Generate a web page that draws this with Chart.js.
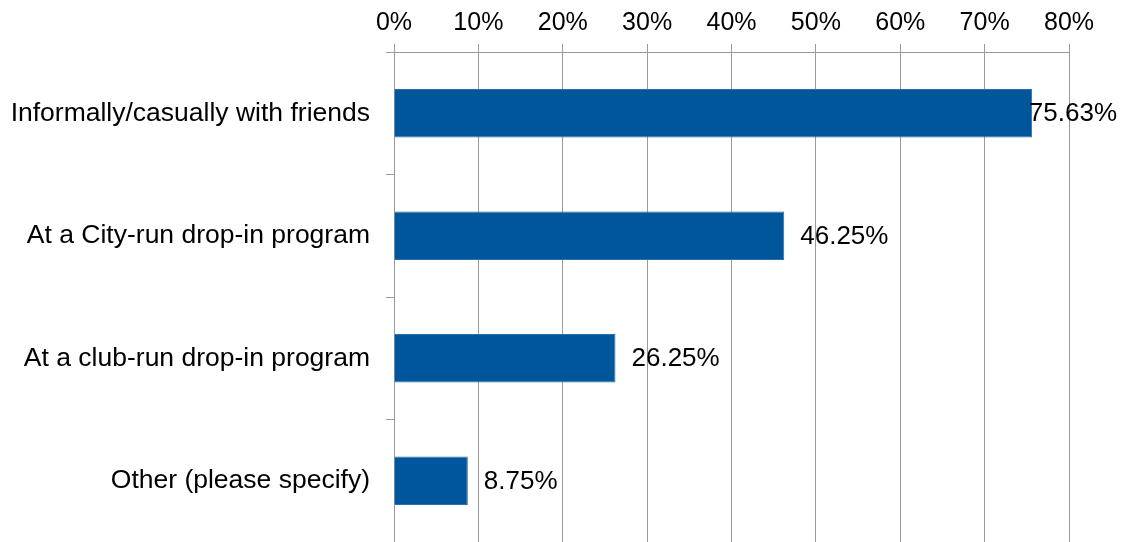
<!DOCTYPE html>
<html>
<head>
<meta charset="utf-8">
<script src="https://cdn.jsdelivr.net/npm/chart.js@4.4.1/dist/chart.umd.min.js"></script>
<style>
  html, body { margin: 0; padding: 0; background: #fff; }
  #wrap { width: 1125px; height: 542px; }
</style>
</head>
<body>
<div id="wrap"><canvas id="surveyChart" width="1125" height="542"></canvas></div>
<script>
const categories = [
  "Informally/casually with friends",
  "At a City-run drop-in program",
  "At a club-run drop-in program",
  "Other (please specify)"
];
const percentValues = [75.63, 46.25, 26.25, 8.75];
const tickValues = [0, 10, 20, 30, 40, 50, 60, 70, 80];

const FONT = "'Liberation Sans', Arial, sans-serif";
const BAR_COLOR = "#00569A";
const GRID_COLOR = "#9a9a9a";

// draw value labels after each bar end
const valueLabels = {
  id: 'valueLabels',
  afterDatasetsDraw(chart) {
    const ctx = chart.ctx;
    const meta = chart.getDatasetMeta(0);
    ctx.save();
    ctx.font = "26px " + FONT;
    ctx.fillStyle = "#000";
    ctx.textBaseline = "middle";
    meta.data.forEach((bar, i) => {
      const txt = percentValues[i].toFixed(2) + "%";
      const w = ctx.measureText(txt).width;
      let x = bar.x + 16;
      if (x + w > chart.width - 8) x = chart.width - 8 - w;
      ctx.fillText(txt, x, bar.y + 1);
    });
    ctx.restore();
  }
};

const ctx = document.getElementById('surveyChart').getContext('2d');
new Chart(ctx, {
  type: 'bar',
  data: {
    labels: categories,
    datasets: [{
      data: percentValues,
      backgroundColor: BAR_COLOR,
      borderColor: "#2a6fae",
      borderWidth: 1,
      categoryPercentage: 1,
      barPercentage: 0.395
    }]
  },
  options: {
    indexAxis: 'y',
    responsive: false,
    animation: false,
    layout: { padding: { top: 0, right: 56, bottom: 0, left: 0 } },
    plugins: {
      legend: { display: false },
      tooltip: { enabled: false }
    },
    scales: {
      x: {
        position: 'top',
        min: 0,
        max: 80,
        afterBuildTicks(scale) {
          scale.ticks = tickValues.map(v => ({ value: v }));
        },
        ticks: {
          color: "#000",
          font: { family: FONT, size: 25 },
          padding: 6,
          callback: v => v + "%"
        },
        grid: { color: GRID_COLOR, tickLength: 8, lineWidth: 1 },
        border: { color: GRID_COLOR, width: 1 },
        afterFit(scale) { scale.height = 52; }
      },
      y: {
        ticks: {
          color: "#000",
          font: { family: FONT, size: 26.5 },
          padding: 16
        },
        grid: {
          offset: true,
          drawOnChartArea: false,
          color: GRID_COLOR,
          tickLength: 8
        },
        border: { color: GRID_COLOR, width: 1 },
        afterFit(scale) {
          scale.width = 394;
          scale.paddingTop = 0;
          scale.paddingBottom = 0;
        }
      }
    }
  },
  plugins: [valueLabels]
});
</script>
</body>
</html>
